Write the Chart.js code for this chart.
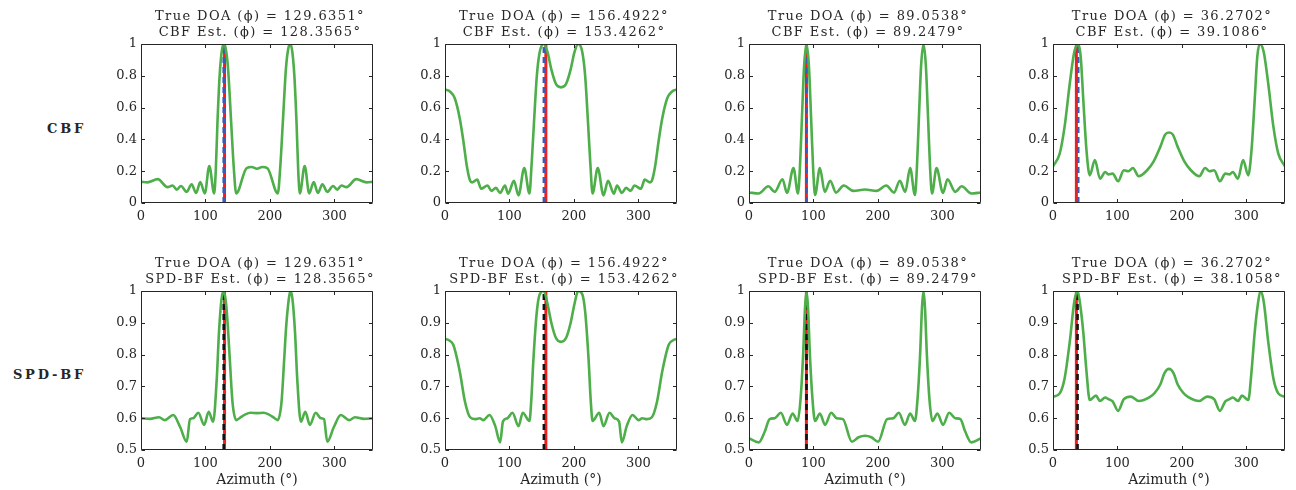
<!DOCTYPE html>
<html>
<head>
<meta charset="utf-8">
<script src="https://cdn.jsdelivr.net/npm/chart.js@4.4.0/dist/chart.umd.min.js"></script>
<style>
  body { margin: 0; background: #fff; width: 1296px; height: 490px; position: relative; overflow: hidden; }
  canvas { position: absolute; }
  .rowlabel { position: absolute; width: 95px; text-align: right; color: #262626;
              font: bold 13px "DejaVu Serif", serif; letter-spacing: 2.8px; }
</style>
</head>
<body>
<div class="rowlabel" style="left:-9px; top:121px">CBF</div>
<div class="rowlabel" style="left:-9px; top:367px">SPD-BF</div>
<script>
// axis ticks
const azimuthTicks = [0, 100, 200, 300];
const cbfTicks = [0, 0.2, 0.4, 0.6, 0.8, 1];
const spdTicks = [0.5, 0.6, 0.7, 0.8, 0.9, 1];

// source directions and beamformer estimates (deg)
const trueDoa = [129.6351, 156.4922, 89.0538, 36.2702];
const cbfEst = [128.3565, 153.4262, 89.2479, 39.1086];
const spdEst = [128.3565, 153.4262, 89.2479, 38.1058];

// CBF beam patterns: azimuth (deg) / normalised power
const cbfAz1 = [0, 10, 26, 41, 49, 55.5, 62, 71, 78.5, 85.5, 92, 99, 106, 113.5, 116, 118.6, 122, 125.5, 128.4, 131.5,
  135, 140, 144, 147.7, 164, 172, 180, 188, 196, 212.3, 216, 220, 225, 228.5, 231.6, 234.5, 238, 241.4, 244, 246.5,
  254, 261, 268, 274.5, 281.5, 289, 298, 304.5, 311, 319, 334, 350, 360];
const cbfPow1 = [0.133, 0.13, 0.15, 0.10, 0.11, 0.084, 0.107, 0.07, 0.118, 0.063, 0.132, 0.06, 0.233, 0.06, 0.2, 0.5, 0.8, 0.96, 1.0, 0.97,
  0.85, 0.5, 0.22, 0.06, 0.22, 0.226, 0.215, 0.226, 0.22, 0.06, 0.22, 0.5, 0.85, 0.97, 1.0, 0.96, 0.8, 0.5, 0.2, 0.06,
  0.233, 0.06, 0.132, 0.063, 0.118, 0.07, 0.107, 0.084, 0.11, 0.10, 0.15, 0.13, 0.133];

const cbfAz2 = [0, 8, 15, 23, 28.5, 34, 39, 42, 50, 56, 66, 72, 79, 85.5, 93, 98, 107, 114, 123, 131,
  134.5, 138, 142.5, 147, 153.4, 159, 165, 172, 180, 188, 195, 201, 206.6, 213, 217.5, 222, 225.5, 229, 237, 246,
  253, 262, 267, 274.5, 281, 288, 294, 304, 310, 318, 321, 326, 331.5, 337, 345, 352, 360];
const cbfPow2 = [0.714, 0.70, 0.66, 0.53, 0.39, 0.23, 0.14, 0.13, 0.147, 0.09, 0.11, 0.076, 0.095, 0.063, 0.11, 0.059, 0.14, 0.048, 0.22, 0.06,
  0.25, 0.5, 0.8, 0.95, 1.0, 0.95, 0.84, 0.75, 0.727, 0.75, 0.84, 0.95, 1.0, 0.95, 0.8, 0.5, 0.25, 0.06, 0.22, 0.048,
  0.14, 0.059, 0.11, 0.063, 0.095, 0.076, 0.11, 0.09, 0.147, 0.13, 0.14, 0.23, 0.39, 0.53, 0.66, 0.70, 0.714];

const cbfAz3 = [0, 15, 30, 40, 52, 59, 69, 76, 79, 82, 85.5, 89.25, 93, 96.5, 99.5, 102.5, 110, 117.5, 126, 135,
  147, 162, 180, 198, 213, 225, 234, 242.5, 250, 257.5, 260.5, 263.5, 267, 270.75, 274.5, 278, 281, 284, 291, 301,
  308, 320, 330, 345, 360];
const cbfPow3 = [0.066, 0.06, 0.105, 0.07, 0.149, 0.063, 0.22, 0.06, 0.22, 0.52, 0.86, 1.0, 0.86, 0.52, 0.22, 0.05, 0.22, 0.07, 0.14, 0.065,
  0.11, 0.076, 0.085, 0.076, 0.11, 0.065, 0.14, 0.07, 0.22, 0.05, 0.22, 0.52, 0.86, 1.0, 0.86, 0.52, 0.22, 0.06, 0.22, 0.063,
  0.149, 0.07, 0.105, 0.06, 0.066];

const cbfAz4 = [0, 10.4, 18, 26, 33, 39.1, 43, 47, 52, 57, 65, 73, 81, 86, 92.6, 101, 110, 117, 124, 133,
  146, 156, 166.5, 174, 180, 186, 193.5, 204, 214, 227, 236, 243, 250, 259, 267.4, 274, 279, 287, 295, 303,
  308, 313, 317, 320.9, 327, 334, 342, 349.6, 360];
const cbfPow4 = [0.231, 0.31, 0.48, 0.75, 0.95, 1.0, 0.92, 0.65, 0.33, 0.174, 0.27, 0.153, 0.195, 0.18, 0.185, 0.137, 0.206, 0.2, 0.22, 0.168,
  0.206, 0.26, 0.353, 0.43, 0.443, 0.43, 0.353, 0.26, 0.206, 0.168, 0.22, 0.2, 0.206, 0.137, 0.185, 0.18, 0.195, 0.153, 0.27, 0.174,
  0.33, 0.65, 0.92, 1.0, 0.95, 0.75, 0.48, 0.31, 0.231];

// SPD-BF beam patterns
const spdAz1 = [0, 14, 28, 37, 50, 60.6, 71, 76, 81, 89, 98, 105, 112, 117.6, 121, 125, 128.4, 132, 135, 138,
  142, 148, 154, 162, 170, 180, 190, 198, 206, 212, 218, 222, 225, 228.5, 231.6, 235, 239, 242.4, 248, 255,
  262, 271, 279, 284, 289, 299.4, 310, 323, 332, 346, 360];
const spdPow1 = [0.6, 0.598, 0.603, 0.594, 0.61, 0.573, 0.526, 0.597, 0.6, 0.617, 0.579, 0.62, 0.589, 0.725, 0.87, 0.975, 1.0, 0.96, 0.88, 0.778,
  0.65, 0.594, 0.602, 0.612, 0.617, 0.616, 0.617, 0.612, 0.602, 0.594, 0.65, 0.778, 0.88, 0.96, 1.0, 0.975, 0.87, 0.725, 0.589, 0.62,
  0.579, 0.617, 0.6, 0.597, 0.526, 0.573, 0.61, 0.594, 0.603, 0.598, 0.6];

const spdAz2 = [0, 6, 13, 23, 31, 39, 46.6, 54, 59.6, 69, 78, 85.5, 90, 97, 104.7, 114, 120.7, 131, 134, 137,
  142.5, 147, 153.4, 159, 165, 172, 180, 188, 195, 201, 206.6, 213, 217.5, 223, 226, 229, 239.3, 246, 255.3, 263,
  270, 274.5, 282, 291, 300.4, 306, 313.4, 321, 329, 337, 347, 354, 360];
const spdPow2 = [0.849, 0.845, 0.83, 0.746, 0.652, 0.603, 0.597, 0.6, 0.594, 0.61, 0.575, 0.524, 0.59, 0.6, 0.617, 0.575, 0.617, 0.591, 0.66, 0.778,
  0.935, 0.99, 1.0, 0.96, 0.9, 0.853, 0.84, 0.853, 0.9, 0.96, 1.0, 0.99, 0.935, 0.778, 0.66, 0.591, 0.617, 0.575, 0.617, 0.6,
  0.59, 0.524, 0.575, 0.61, 0.594, 0.6, 0.597, 0.603, 0.652, 0.746, 0.83, 0.845, 0.849];

const spdAz3 = [0, 15, 24.5, 32, 40, 49.4, 59, 67.6, 75.4, 80, 84, 87, 89.25, 91.5, 94.5, 98.5, 102.5, 110, 118, 127.5,
  136, 145.7, 159.7, 170, 180, 190, 200.3, 214.3, 224, 232.5, 242, 250, 257.5, 261.5, 265.5, 268.5, 270.75, 273, 276, 280,
  284.6, 292.4, 301, 310.6, 320, 328, 335.5, 345, 360];
const spdPow3 = [0.537, 0.524, 0.558, 0.597, 0.6, 0.617, 0.579, 0.615, 0.591, 0.66, 0.8, 0.95, 1.0, 0.95, 0.8, 0.66, 0.591, 0.615, 0.579, 0.617,
  0.6, 0.597, 0.526, 0.54, 0.545, 0.54, 0.526, 0.597, 0.6, 0.617, 0.579, 0.615, 0.591, 0.66, 0.8, 0.95, 1.0, 0.95, 0.8, 0.66,
  0.591, 0.615, 0.579, 0.617, 0.6, 0.597, 0.558, 0.524, 0.537];

const spdAz4 = [0, 10.4, 18, 26, 33, 38.1, 42, 47, 52, 57, 66.6, 73, 81, 86, 92.6, 101, 110, 121, 133, 150,
  158, 166.5, 173, 180, 187, 193.5, 202, 210, 227, 239, 250, 259, 267.4, 274, 279, 287, 293.4, 303, 308, 313,
  318, 321.9, 327, 334, 342, 349.6, 360];
const spdPow4 = [0.667, 0.678, 0.725, 0.84, 0.966, 1.0, 0.96, 0.87, 0.746, 0.657, 0.671, 0.654, 0.665, 0.66, 0.653, 0.623, 0.66, 0.668, 0.654, 0.666,
  0.68, 0.706, 0.742, 0.755, 0.742, 0.706, 0.68, 0.666, 0.654, 0.668, 0.66, 0.623, 0.653, 0.66, 0.665, 0.654, 0.671, 0.657, 0.746, 0.87,
  0.96, 1.0, 0.966, 0.84, 0.725, 0.678, 0.667];

// colours / fonts
const GREEN = "#4dae4a";
const RED = "#f01f1f";
const BLUE = "#3b5bb7";
const BLACK = "#111111";
const AXIS = "#262626";
const FONT = '"DejaVu Serif", serif';

// page layout of the 2x4 grid (plot areas)
const colLeft = [141, 445, 749, 1053];
const plotW = 232;
const sidePad = 44;
const rows = [
  { top: 0, height: 230, padTop: 44, axisH: 27, yMin: 0, ticks: cbfTicks, name: "CBF", est: cbfEst, color: BLUE,
    az: [cbfAz1, cbfAz2, cbfAz3, cbfAz4], pow: [cbfPow1, cbfPow2, cbfPow3, cbfPow4] },
  { top: 245, height: 245, padTop: 46, axisH: 40, yMin: 0.5, ticks: spdTicks, name: "SPD-BF", est: spdEst, color: BLACK,
    az: [spdAz1, spdAz2, spdAz3, spdAz4], pow: [spdPow1, spdPow2, spdPow3, spdPow4] },
];

const fmt = (v) => parseFloat(v.toFixed(2)).toString();

// box, inward ticks and two-line title, MATLAB style
const axesBox = {
  id: "axesBox",
  afterDraw(chart, args, opts) {
    const { ctx, chartArea: a, scales: { x, y } } = chart;
    const L = Math.round(a.left) + 0.5, R = Math.round(a.right) - 0.5;
    const T = Math.round(a.top) + 0.5, B = Math.round(a.bottom) - 0.5;
    const tl = 3.5;
    ctx.save();
    ctx.strokeStyle = AXIS;
    ctx.lineWidth = 1;
    ctx.beginPath();
    x.ticks.forEach((t) => {
      const px = Math.round(x.getPixelForValue(t.value)) + 0.5;
      ctx.moveTo(px, B); ctx.lineTo(px, B - tl);
      ctx.moveTo(px, T); ctx.lineTo(px, T + tl);
    });
    y.ticks.forEach((t) => {
      const py = Math.round(y.getPixelForValue(t.value)) + 0.5;
      ctx.moveTo(L, py); ctx.lineTo(L + tl, py);
      ctx.moveTo(R, py); ctx.lineTo(R - tl, py);
    });
    ctx.rect(L, T, R - L, B - T);
    ctx.stroke();

    ctx.fillStyle = AXIS;
    ctx.font = "13px " + FONT;
    ctx.textAlign = "center";
    ctx.textBaseline = "middle";
    ctx.letterSpacing = "1.4px";
    const cx = (a.left + a.right) / 2 + 3;
    opts.lines.forEach((s, i) => ctx.fillText(s, cx, a.top - 27 + 16 * i));
    ctx.restore();
  },
};

rows.forEach((row, r) => {
  colLeft.forEach((left, c) => {
    const canvas = document.createElement("canvas");
    canvas.width = plotW + 2 * sidePad;
    canvas.height = row.height;
    canvas.style.left = left - sidePad + "px";
    canvas.style.top = row.top + "px";
    document.body.appendChild(canvas);

    const az = row.az[c], pow = row.pow[c];
    const est = row.est[c], truth = trueDoa[c];
    const titleLines = [
      "True DOA (ϕ) = " + truth.toFixed(4) + "°",
      row.name + " Est. (ϕ) = " + est.toFixed(4) + "°",
    ];

    new Chart(canvas, {
      type: "line",
      data: {
        datasets: [
          {
            data: az.map((a, i) => ({ x: a, y: pow[i] })),
            borderColor: GREEN,
            borderWidth: 2.6,
            pointRadius: 0,
            cubicInterpolationMode: "monotone",
          },
          {
            data: [{ x: est, y: row.yMin }, { x: est, y: 1 }],
            borderColor: row.color,
            borderWidth: 2.6,
            borderDash: [6, 4],
            pointRadius: 0,
          },
          {
            data: [{ x: truth, y: row.yMin }, { x: truth, y: 1 }],
            borderColor: RED,
            borderWidth: 3,
            pointRadius: 0,
          },
        ],
      },
      options: {
        responsive: false,
        animation: false,
        events: [],
        layout: { padding: { top: row.padTop, right: sidePad, bottom: 0, left: 0 } },
        plugins: {
          legend: { display: false },
          tooltip: { enabled: false },
          axesBox: { lines: titleLines },
        },
        scales: {
          x: {
            type: "linear",
            min: 0,
            max: 360,
            afterBuildTicks: (s) => { s.ticks = azimuthTicks.map((v) => ({ value: v })); },
            afterFit: (s) => { s.height = row.axisH; },
            grid: { display: false, drawTicks: false },
            border: { display: false },
            ticks: { callback: fmt, color: AXIS, font: { family: FONT, size: 13 }, padding: 6, maxRotation: 0, autoSkip: false },
            title: {
              display: r === 1,
              text: "Azimuth (°)",
              color: AXIS,
              font: { family: FONT, size: 14 },
              padding: { top: 0, bottom: 1 },
            },
          },
          y: {
            type: "linear",
            min: row.yMin,
            max: 1,
            afterBuildTicks: (s) => { s.ticks = row.ticks.map((v) => ({ value: v })); },
            afterFit: (s) => { s.width = sidePad; },
            grid: { display: false, drawTicks: false },
            border: { display: false },
            ticks: { callback: fmt, color: AXIS, font: { family: FONT, size: 13 }, padding: 4 },
          },
        },
      },
      plugins: [axesBox],
    });
  });
});
</script>
</body>
</html>
